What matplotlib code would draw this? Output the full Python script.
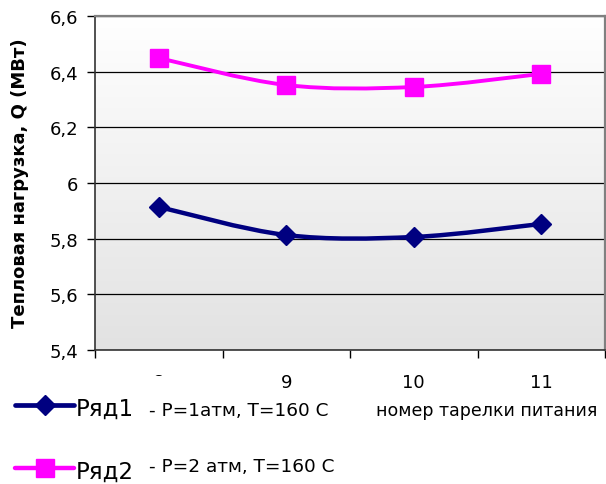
import numpy as np
import matplotlib
matplotlib.use("Agg")
import matplotlib.pyplot as plt
from matplotlib.path import Path
from matplotlib.patches import PathPatch, Rectangle
from matplotlib.lines import Line2D
from matplotlib.colors import LinearSegmentedColormap

plt.rcParams['font.family'] = ['DejaVu Sans']

categories = ["8", "9", "10", "11"]
series1 = [5.914, 5.813, 5.806, 5.853]
series2 = [6.449, 6.352, 6.345, 6.392]
yticks = [5.4, 5.6, 5.8, 6.0, 6.2, 6.4, 6.6]
ytick_labels = ["5,4", "5,6", "5,8", "6", "6,2", "6,4", "6,6"]
name1, desc1 = "Ряд1", "- P=1атм, T=160 C"
name2, desc2 = "Ряд2", "- P=2 атм, T=160 C"
xlabel = "номер тарелки питания"
ylabel = "Тепловая нагрузка, Q (МВт)"

W, H = 606, 485
fig = plt.figure(figsize=(W / 100, H / 100), dpi=100)

def fx(px):
    return px / W

def fy(py):
    return 1 - py / H

ax = fig.add_axes([fx(95), fy(351), fx(605) - fx(95), fy(17) - fy(351)])

# gradient background
cmap = LinearSegmentedColormap.from_list("bg", ["#ffffff", "#e2e2e2"])
grad = np.linspace(0, 1, 256).reshape(-1, 1)
ax.imshow(grad, extent=[0, 1, 0, 1], transform=ax.transAxes, cmap=cmap,
          aspect='auto', zorder=0, origin='upper')

x = np.arange(1, len(categories) + 1)


def smooth_path(xs, ys):
    pts = np.column_stack([xs, ys]).astype(float)
    n = len(pts)
    verts = [pts[0]]
    codes = [Path.MOVETO]
    for i in range(n - 1):
        p0 = pts[i - 1] if i > 0 else pts[i]
        p1 = pts[i]
        p2 = pts[i + 1]
        p3 = pts[i + 2] if i + 2 < n else pts[i + 1]
        c1 = p1 + (p2 - p0) / 6.0
        c2 = p2 - (p3 - p1) / 6.0
        verts += [c1, c2, p2]
        codes += [Path.CURVE4] * 3
    return Path(verts, codes)


blue = "#000080"
pink = "#ff00ff"
for ys, col, lw, mk, ms in [(series1, blue, 3.2, 'D', 10.5), (series2, pink, 2.8, 's', 13.5)]:
    ax.add_patch(PathPatch(smooth_path(x, ys), facecolor='none', edgecolor=col,
                           lw=lw, zorder=3, capstyle='round', joinstyle='round'))
    ax.plot(x, ys, linestyle='none', marker=mk, markersize=ms, color=col, zorder=4)

ax.set_xlim(0.5, len(categories) + 0.5)
ax.set_ylim(5.4, 6.6)
ax.set_yticks(yticks)
ax.set_yticklabels(ytick_labels, fontsize=13)
ax.yaxis.grid(True, color='black', lw=0.9, zorder=1)
ax.set_axisbelow(True)

ax.set_xticks(np.arange(0.5, len(categories) + 1, 1.0))
ax.set_xticklabels([])
ax.set_xticks(x, minor=True)
ax.set_xticklabels(categories, minor=True, fontsize=13)
ax.tick_params(axis='x', which='minor', length=0, pad=16.5)
ax.tick_params(axis='x', which='major', direction='out', length=5.8, width=1, color='black')
ax.tick_params(axis='y', direction='out', length=5.8, width=1, color='black', pad=6.5)

for s in ['top', 'right']:
    ax.spines[s].set_color('#808080')
    ax.spines[s].set_linewidth(1.6)
for s in ['left', 'bottom']:
    ax.spines[s].set_color('#333333')
    ax.spines[s].set_linewidth(1.2)

fig.text(fx(20), fy(183), ylabel, rotation=90, fontsize=13, fontweight='bold',
         ha='center', va='center')
fig.text(fx(487), fy(411), xlabel, fontsize=12.5, ha='center', va='center')

# legend area (covers part of the first category label, as in the original)
fig.patches.append(Rectangle((0, 0), fx(240), fy(377), transform=fig.transFigure,
                             facecolor='white', edgecolor='none', zorder=5))

for ly, col, mk, ms, lw in [(406, blue, 'D', 10.5, 3.4), (469, pink, 's', 13.0, 3.2)]:
    fig.lines.append(Line2D([fx(15), fx(74)], [fy(ly), fy(ly)], transform=fig.transFigure,
                            color=col, lw=lw, zorder=6, solid_capstyle='round'))
    fig.lines.append(Line2D([fx(45)], [fy(ly)], transform=fig.transFigure, color=col,
                            marker=mk, markersize=ms, linestyle='none', zorder=6))

fig.text(fx(76), fy(416), name1, fontsize=16.5, va='baseline', ha='left', zorder=7)
fig.text(fx(149), fy(416), desc1, fontsize=13.3, va='baseline', ha='left', zorder=7)
fig.text(fx(76), fy(479), name2, fontsize=16.5, va='baseline', ha='left', zorder=7)
fig.text(fx(149), fy(472), desc2, fontsize=13.3, va='baseline', ha='left', zorder=7)

fig.savefig("out.png", dpi=100)
